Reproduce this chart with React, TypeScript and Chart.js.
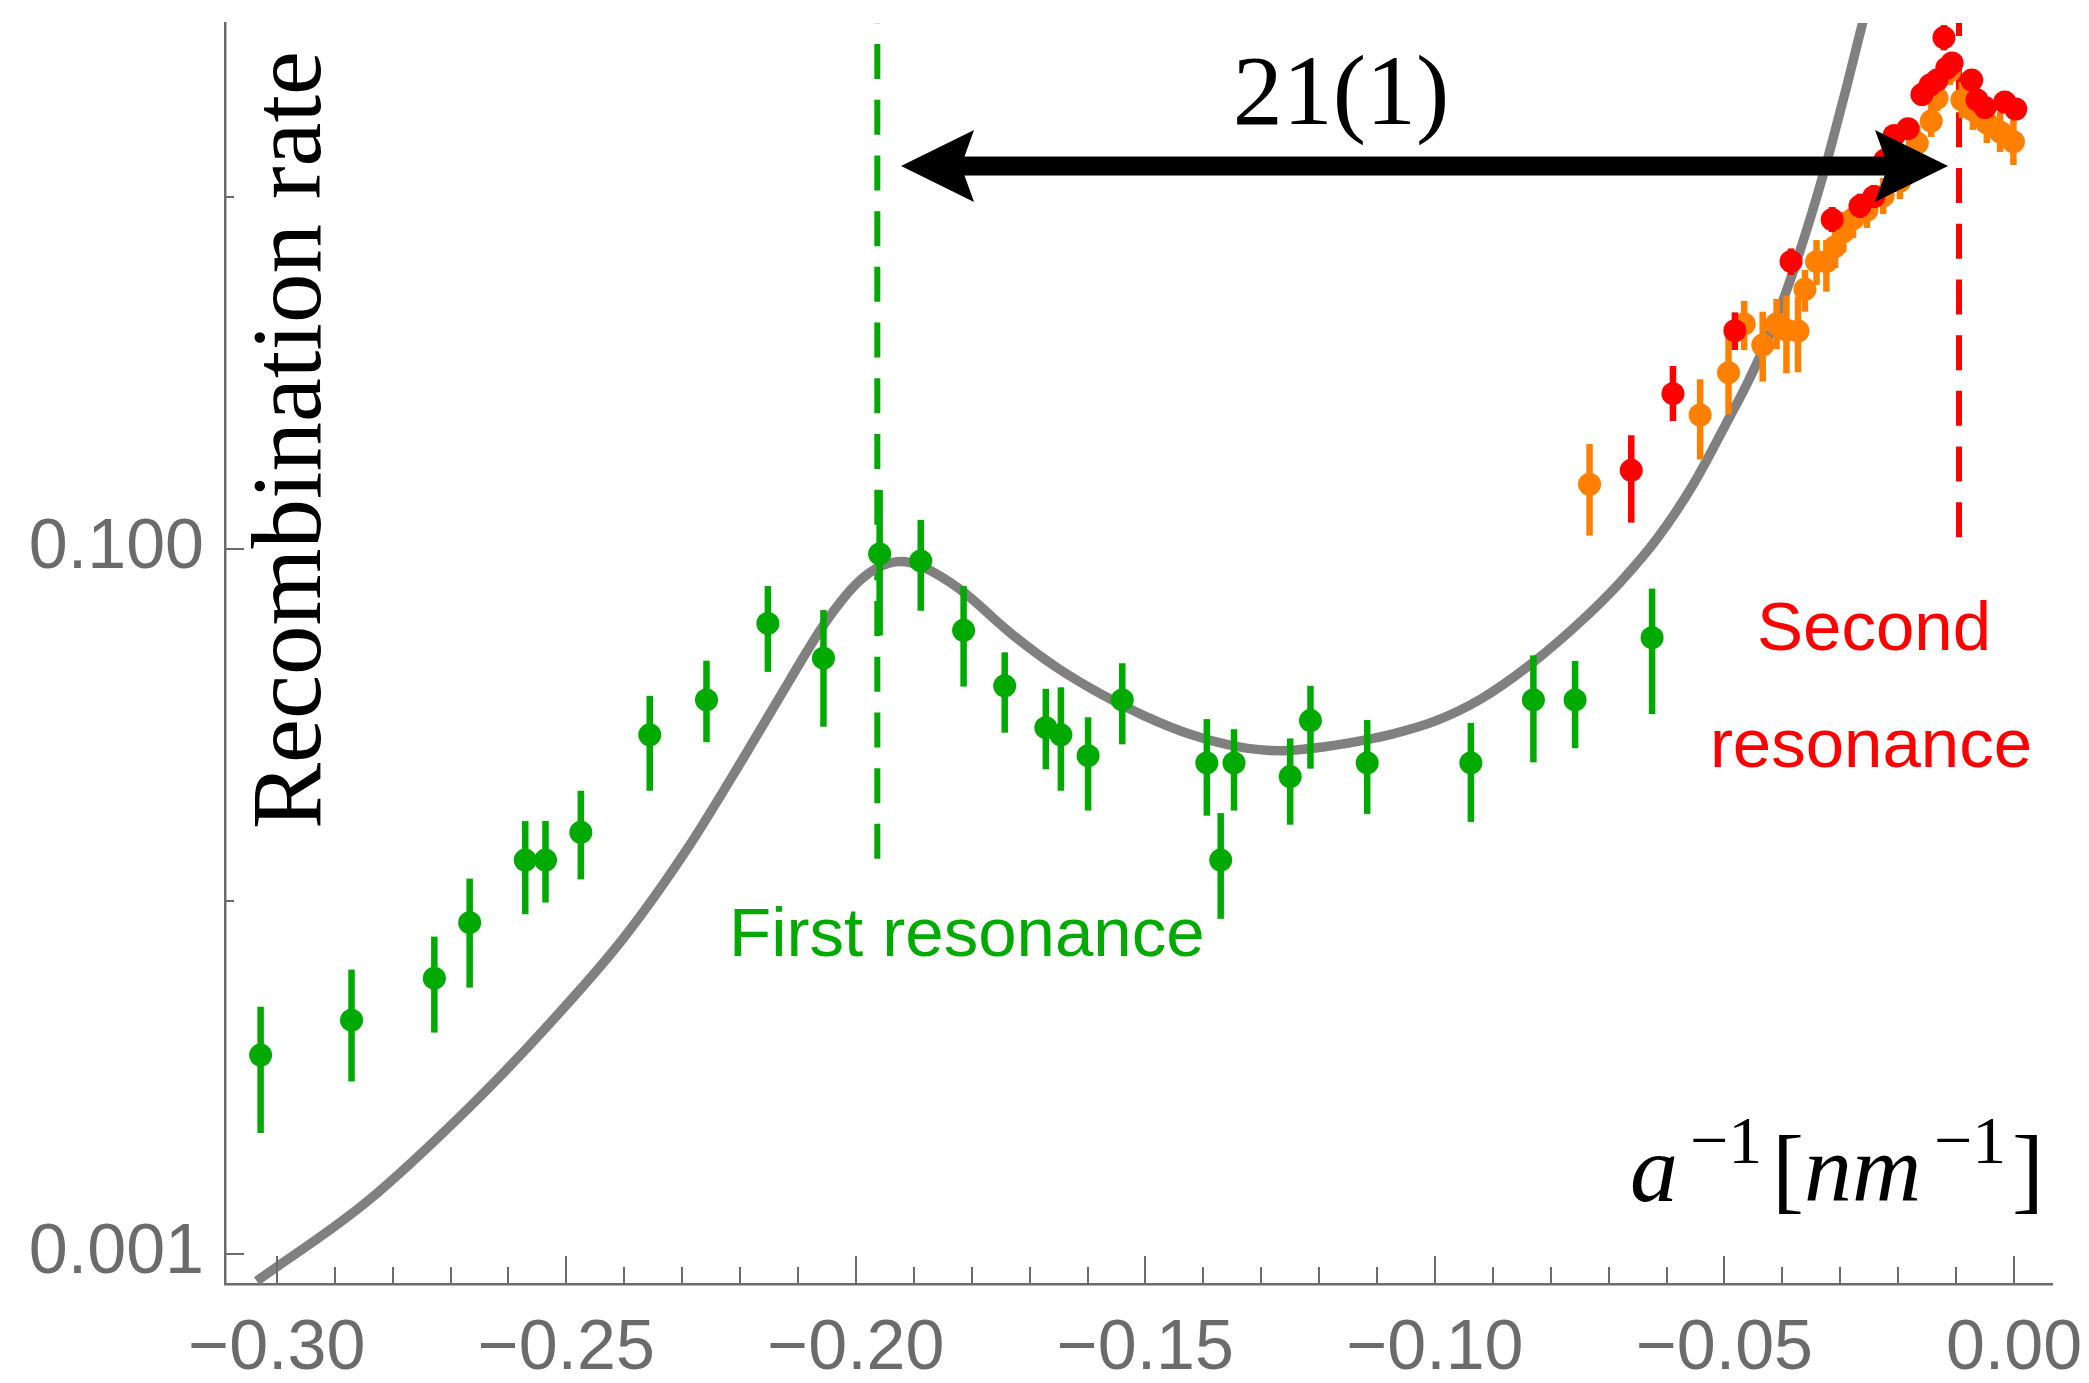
import React, { useEffect, useRef } from "react";
import { Chart, registerables } from "chart.js";

Chart.register(...registerables);

const W = 2089;
const H = 1383;

// ---- axes ----
const xMin = -0.30895;
const xMax = 0.00656;
const yMin = 0.00082;
const yMax = 3.112;
const xMajorTicks = [-0.3, -0.25, -0.2, -0.15, -0.1, -0.05, 0.0];
const xMinorTicks = [
  -0.29, -0.28, -0.27, -0.26, -0.24, -0.23, -0.22, -0.21, -0.19, -0.18, -0.17, -0.16,
  -0.14, -0.13, -0.12, -0.11, -0.09, -0.08, -0.07, -0.06, -0.04, -0.03, -0.02, -0.01,
];
const yMajorTicks = [0.001, 0.1];
const yTickLabels = ["0.001", "0.100"];
const yMinorTicks = [0.01, 1];

// ---- model curve ----
const curveX = [
  -0.30347, -0.2846, -0.26685, -0.25375, -0.24025, -0.22908, -0.21922, -0.21155, -0.20533,
  -0.19998, -0.19608, -0.19221, -0.18841, -0.18219, -0.17295, -0.16527, -0.15749, -0.1499,
  -0.14212, -0.13436, -0.12676, -0.11899, -0.11129, -0.10776, -0.09999, -0.09222, -0.08307,
  -0.07443, -0.06804, -0.06165, -0.05543, -0.04904, -0.04616, -0.04162, -0.03868, -0.0358,
  -0.03384, -0.03177, -0.02889, -0.0263, -0.02487,
];
const curveY = [
  0.000836, 0.001398, 0.002594, 0.004343, 0.007816, 0.01413, 0.02586, 0.04212, 0.06166,
  0.07946, 0.08876, 0.09209, 0.08883, 0.07716, 0.05711, 0.04606, 0.03861, 0.03344,
  0.02973, 0.02754, 0.02676, 0.02747, 0.02887, 0.02973, 0.03247, 0.0374, 0.04765,
  0.06313, 0.08038, 0.107, 0.1522, 0.2382, 0.293, 0.4278, 0.5776, 0.8054,
  1.0278, 1.3575, 2.0566, 3.0437, 3.802,
];

// ---- green data ----
const greenX = [
  -0.3028, -0.2871, -0.2728, -0.2667, -0.2571, -0.2536, -0.2475, -0.2356, -0.2258, -0.2152,
  -0.2056, -0.1959, -0.1888, -0.1814, -0.1743, -0.1672, -0.1646, -0.1599, -0.154, -0.1394,
  -0.137, -0.1347, -0.125, -0.1215, -0.1117, -0.0938, -0.083, -0.0758, -0.0625,
];
const greenY = [
  0.00366, 0.0046, 0.00605, 0.0087, 0.0131, 0.0131, 0.0157, 0.0297, 0.0373, 0.0615,
  0.049, 0.0968, 0.0925, 0.0588, 0.0409, 0.0311, 0.0297, 0.0259, 0.0373, 0.0247,
  0.0131, 0.0247, 0.0226, 0.0326, 0.0247, 0.0247, 0.0373, 0.0373, 0.056,
];
const greenLo = [
  0.0022, 0.00308, 0.00424, 0.00569, 0.00919, 0.00992, 0.01154, 0.0206, 0.0283, 0.0448,
  0.0313, 0.0568, 0.0668, 0.0407, 0.0301, 0.0237, 0.0206, 0.0181, 0.0279, 0.0175,
  0.00892, 0.0181, 0.0165, 0.0238, 0.0177, 0.0168, 0.0248, 0.0272, 0.034,
];
const greenHi = [
  0.00502, 0.0064, 0.00794, 0.0116, 0.0169, 0.0169, 0.0206, 0.0383, 0.0482, 0.0785,
  0.0671, 0.147, 0.121, 0.0785, 0.0509, 0.0401, 0.0405, 0.0333, 0.0474, 0.0329,
  0.0178, 0.0308, 0.029, 0.0409, 0.0327, 0.0321, 0.0499, 0.0481, 0.0772,
];

// ---- orange data ----
const orangeX = [
  -0.0733, -0.0542, -0.0493, -0.0466, -0.0434, -0.041, -0.0393, -0.0373, -0.0361, -0.0341,
  -0.0324, -0.0309, -0.0295, -0.0278, -0.0254, -0.0226, -0.0197, -0.0167, -0.0143, -0.0133,
  -0.0111, -0.009, -0.0071, -0.0047, -0.0024, -0.0001,
];
const orangeY = [
  0.1527, 0.2401, 0.3165, 0.4352, 0.3793, 0.4352, 0.4184, 0.4157, 0.5461, 0.654,
  0.654, 0.7213, 0.7941, 0.8645, 0.9167, 1.005, 1.108, 1.42, 1.64, 1.906,
  2.274, 1.882, 1.762, 1.619, 1.527, 1.432,
];
const orangeLo = [
  0.1091, 0.1795, 0.2411, 0.3672, 0.2985, 0.3686, 0.3152, 0.3174, 0.4716, 0.5617,
  0.5375, 0.6274, 0.6966, 0.7636, 0.8152, 0.8931, 0.9851, 1.263, 1.477, 1.751,
  2.075, 1.672, 1.547, 1.42, 1.339, 1.23,
];
const orangeHi = [
  0.1986, 0.3032, 0.4068, 0.5058, 0.4716, 0.5125, 0.5236, 0.5202, 0.6193, 0.7535,
  0.7535, 0.8152, 0.905, 0.9786, 1.031, 1.13, 1.246, 1.598, 1.821, 2.075,
  2.492, 2.116, 2.009, 1.845, 1.739, 1.651,
];

// ---- red data ----
const redX = [
  -0.0661, -0.0589, -0.0482, -0.0385, -0.0314, -0.0266, -0.0242, -0.0223, -0.0207, -0.0183,
  -0.0159, -0.0145, -0.0133, -0.0121, -0.0116, -0.0107, -0.0073, -0.0064, -0.005, -0.0016, 0.0003,
];
const redY = [
  0.1673, 0.2759, 0.4165, 0.655, 0.8615, 0.941, 1.0, 1.271, 1.492, 1.56,
  1.95, 2.075, 2.144, 2.83, 2.319, 2.396, 2.144, 1.882, 1.791, 1.857, 1.774,
];
const redLo = [
  0.1188, 0.2309, 0.3672, 0.5994, 0.794, 0.87, 0.93, 1.18, 1.4, 1.47,
  1.84, 1.96, 2.02, 2.603, 2.19, 2.26, 2.02, 1.77, 1.69, 1.75, 1.67,
];
const redHi = [
  0.2103, 0.3307, 0.4696, 0.713, 0.935, 1.02, 1.08, 1.37, 1.59, 1.66,
  2.07, 2.2, 2.27, 3.07, 2.46, 2.54, 2.27, 2.0, 1.9, 1.97, 1.88,
];

// ---- annotations (data coordinates) ----
const firstResonanceX = -0.1963;
const firstResonanceBottom = 0.0132;
const secondResonanceX = -0.0095;
const secondResonanceBottom = 0.108;
const arrowLeftX = -0.1922;
const arrowRightX = -0.0114;
const arrowY = 1.222;
const separationText = "21(1)";
const yAxisTitle = "Recombination rate";
const firstLabel = "First resonance";
const secondLabel = ["Second", "resonance"];

const GREEN = "#00aa00";
const ORANGE = "#ff8000";
const RED = "#ff0000";
const CURVE = "#808080";
const AXIS = "#6b6b6b";
const SANS = "'Liberation Sans', Arial, sans-serif";
const SERIF = "'Liberation Serif', 'Times New Roman', serif";

const pts = (xs: number[], ys: number[]) => xs.map((x, i) => ({ x, y: ys[i] }));

const overlayPlugin = {
  id: "overlay",
  beforeDatasetsDraw(chart: any) {
    const { ctx, chartArea, scales } = chart;
    const { x, y } = scales;
    ctx.save();
    ctx.lineWidth = 6;
    ctx.setLineDash([35, 20.7]);
    const dashed = (xv: number, yb: number, color: string) => {
      const px = x.getPixelForValue(xv);
      ctx.strokeStyle = color;
      ctx.beginPath();
      ctx.moveTo(px, y.getPixelForValue(yb));
      ctx.lineTo(px, chartArea.top);
      ctx.stroke();
    };
    dashed(firstResonanceX, firstResonanceBottom, GREEN);
    dashed(secondResonanceX, secondResonanceBottom, RED);
    ctx.restore();
  },
  beforeDatasetDraw(chart: any, args: any) {
    const ds = chart.data.datasets[args.index];
    if (!ds.errLo) return;
    const { ctx, chartArea, scales } = chart;
    const { x, y } = scales;
    ctx.save();
    ctx.beginPath();
    ctx.rect(chartArea.left, chartArea.top, chartArea.right - chartArea.left, chartArea.bottom - chartArea.top);
    ctx.clip();
    ctx.strokeStyle = ds.backgroundColor;
    ctx.lineWidth = 6.5;
    ctx.lineCap = "butt";
    ds.data.forEach((p: any, i: number) => {
      const px = x.getPixelForValue(p.x);
      ctx.beginPath();
      ctx.moveTo(px, y.getPixelForValue(ds.errLo[i]));
      ctx.lineTo(px, y.getPixelForValue(ds.errHi[i]));
      ctx.stroke();
    });
    ctx.restore();
  },
  afterDraw(chart: any) {
    const { ctx, chartArea, scales } = chart;
    const { x, y } = scales;
    const { left, bottom } = chartArea;
    ctx.save();
    // inward ticks
    ctx.strokeStyle = AXIS;
    ctx.lineWidth = 2;
    const vt = (v: number, len: number) => {
      const px = Math.round(x.getPixelForValue(v));
      ctx.beginPath();
      ctx.moveTo(px, bottom);
      ctx.lineTo(px, bottom - len);
      ctx.stroke();
    };
    xMajorTicks.forEach((v) => vt(v, 28));
    xMinorTicks.forEach((v) => vt(v, 17));
    const ht = (v: number, len: number) => {
      const py = Math.round(y.getPixelForValue(v));
      ctx.beginPath();
      ctx.moveTo(left, py);
      ctx.lineTo(left + len, py);
      ctx.stroke();
    };
    yMajorTicks.forEach((v) => ht(v, 19));
    yMinorTicks.forEach((v) => ht(v, 9));

    // arrow
    const ya = y.getPixelForValue(arrowY);
    const xl = x.getPixelForValue(arrowLeftX);
    const xr = x.getPixelForValue(arrowRightX);
    const headLen = 73, headHalf = 36, notch = 60, shaft = 19;
    ctx.fillStyle = "#000";
    ctx.fillRect(xl + notch - 1, ya - shaft / 2, xr - xl - 2 * notch + 2, shaft);
    ctx.beginPath();
    ctx.moveTo(xl, ya);
    ctx.lineTo(xl + headLen, ya - headHalf);
    ctx.lineTo(xl + notch, ya);
    ctx.lineTo(xl + headLen, ya + headHalf);
    ctx.closePath();
    ctx.fill();
    ctx.beginPath();
    ctx.moveTo(xr, ya);
    ctx.lineTo(xr - headLen, ya - headHalf);
    ctx.lineTo(xr - notch, ya);
    ctx.lineTo(xr - headLen, ya + headHalf);
    ctx.closePath();
    ctx.fill();

    // texts
    ctx.textBaseline = "alphabetic";
    ctx.fillStyle = "#000";
    ctx.font = `100px ${SERIF}`;
    ctx.textAlign = "center";
    ctx.fillText(separationText, 1341, 124);

    ctx.save();
    ctx.translate(320, 440);
    ctx.rotate(-Math.PI / 2);
    ctx.font = `99px ${SERIF}`;
    ctx.textAlign = "center";
    ctx.fillText(yAxisTitle, 0, 0);
    ctx.restore();

    ctx.font = `69px ${SANS}`;
    ctx.fillStyle = GREEN;
    ctx.textAlign = "left";
    ctx.fillText(firstLabel, 729, 956);

    ctx.fillStyle = RED;
    ctx.textAlign = "center";
    ctx.fillText(secondLabel[0], 1874, 650);
    ctx.fillText(secondLabel[1], 1871, 767);

    // x-axis title a^{-1}[nm^{-1}]
    ctx.fillStyle = "#000";
    ctx.textAlign = "left";
    const base = 1201;
    const sup = base - 38;
    ctx.font = `italic 96px ${SERIF}`;
    ctx.fillText("a", 1630, base);
    ctx.font = `68px ${SERIF}`;
    ctx.fillText("\u22121", 1690, sup);
    ctx.font = `96px ${SERIF}`;
    ctx.fillText("[", 1772, base);
    ctx.font = `italic 96px ${SERIF}`;
    ctx.fillText("nm", 1804, base);
    ctx.font = `68px ${SERIF}`;
    ctx.fillText("\u22121", 1934, sup);
    ctx.font = `96px ${SERIF}`;
    ctx.fillText("]", 2012, base);
    ctx.restore();
  },
};

export default function App() {
  const ref = useRef<HTMLCanvasElement>(null);
  useEffect(() => {
    document.body.style.margin = "0";
    const canvas = ref.current;
    if (!canvas) return;
    const pointDs = (label: string, xs: number[], ys: number[], lo: number[], hi: number[], color: string, order: number) => ({
      label,
      data: pts(xs, ys),
      backgroundColor: color,
      borderColor: color,
      borderWidth: 0,
      pointRadius: 11.5,
      pointHoverRadius: 11.5,
      pointBorderWidth: 0,
      showLine: false,
      errLo: lo,
      errHi: hi,
      order,
    });
    const chart = new Chart(canvas, {
      type: "scatter",
      data: {
        datasets: [
          {
            label: "model",
            data: pts(curveX, curveY),
            borderColor: CURVE,
            backgroundColor: CURVE,
            borderWidth: 9.5,
            pointRadius: 0,
            pointHoverRadius: 0,
            showLine: true,
            cubicInterpolationMode: "monotone",
            order: 4,
            clip: 0,
          } as any,
          pointDs("green", greenX, greenY, greenLo, greenHi, GREEN, 3) as any,
          pointDs("orange", orangeX, orangeY, orangeLo, orangeHi, ORANGE, 2) as any,
          pointDs("red", redX, redY, redLo, redHi, RED, 1) as any,
        ],
      },
      options: {
        responsive: false,
        animation: false,
        devicePixelRatio: 1,
        events: [],
        layout: { padding: { left: 0, right: 37, top: 23, bottom: 0 } },
        plugins: { legend: { display: false }, tooltip: { enabled: false } },
        scales: {
          x: {
            type: "linear",
            min: xMin,
            max: xMax,
            bounds: "data",
            grid: { display: false, drawTicks: false },
            border: { display: true, color: AXIS, width: 2.5 },
            ticks: {
              autoSkip: false,
              maxRotation: 0,
              minRotation: 0,
              padding: 24,
              color: AXIS,
              font: { family: SANS, size: 70 },
              callback: (v: any) => {
                const n = Number(v);
                return Math.abs(n) < 1e-9 ? "0.00" : (n < 0 ? "\u2212" : "") + Math.abs(n).toFixed(2);
              },
            },
            afterBuildTicks: (s: any) => {
              s.ticks = xMajorTicks.map((value) => ({ value }));
            },
            afterFit: (s: any) => {
              s.height = 99;
              s.paddingLeft = 0;
              s.paddingRight = 0;
              s.paddingTop = 0;
              s.paddingBottom = 0;
            },
          },
          y: {
            type: "logarithmic",
            min: yMin,
            max: yMax,
            bounds: "data",
            grid: { display: false, drawTicks: false },
            border: { display: true, color: AXIS, width: 2.5 },
            ticks: {
              autoSkip: false,
              padding: 21,
              color: AXIS,
              font: { family: SANS, size: 70 },
              callback: (v: any) => {
                const i = yMajorTicks.findIndex((t) => Math.abs(t - Number(v)) < 1e-12);
                return i >= 0 ? yTickLabels[i] : "";
              },
            },
            afterBuildTicks: (s: any) => {
              s.ticks = yMajorTicks.map((value) => ({ value }));
            },
            afterFit: (s: any) => {
              s.width = 225;
              s.paddingLeft = 0;
              s.paddingRight = 0;
              s.paddingTop = 0;
              s.paddingBottom = 0;
            },
          },
        },
      } as any,
      plugins: [overlayPlugin as any],
    });
    return () => chart.destroy();
  }, []);
  return (
    <div style={{ width: W, height: H }}>
      <canvas ref={ref} width={W} height={H} style={{ display: "block", width: W, height: H }} />
    </div>
  );
}
